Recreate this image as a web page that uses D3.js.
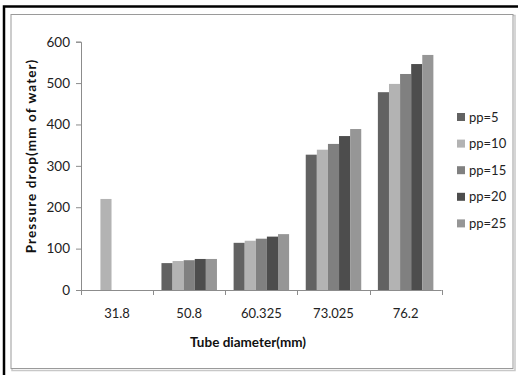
<!DOCTYPE html>
<html>
<head>
<meta charset="utf-8">
<script src="https://cdn.jsdelivr.net/npm/d3@7"></script>
<style>
  body { margin: 0; background: #fff; }
  svg { display: block; font-family: Lato, "Open Sans", sans-serif; }
</style>
</head>
<body>
<svg id="chart" width="518" height="375"></svg>
<script>
// tube diameters (mm) on the x axis
var categories = ["31.8", "50.8", "60.325", "73.025", "76.2"];
var seriesNames = ["pp=5", "pp=10", "pp=15", "pp=20", "pp=25"];
var seriesColors = ["#626262", "#b3b3b3", "#808080", "#4d4d4d", "#969696"];

// pressure drop (mm of water), one array per series, null = no bar
var pp5  = [null, 65, 114, 327, 478];
var pp10 = [220,  70, 119, 339, 498];
var pp15 = [null, 72, 124, 353, 522];
var pp20 = [null, 75, 129, 372, 546];
var pp25 = [null, 75, 135, 389, 568];
var yTicks = [0, 100, 200, 300, 400, 500, 600];

var series = [pp5, pp10, pp15, pp20, pp25];

var svg = d3.select("#chart");

// outer black frame (only top and left are visible in the picture)
svg.append("path")
	.attr("d", "M4,375V6.5H518")
	.attr("fill", "none")
	.attr("stroke", "#000")
	.attr("stroke-width", 2.5);

// inner chart border with light shadow
svg.append("rect")
	.attr("x", 12).attr("y", 15.5).attr("width", 503).attr("height", 355)
	.attr("fill", "none").attr("stroke", "#c8c8c8").attr("stroke-width", 1.5);
svg.append("rect")
	.attr("x", 11).attr("y", 14.5).attr("width", 502).attr("height", 354)
	.attr("fill", "#fff").attr("stroke", "#9a9a9a").attr("stroke-width", 1);

var plotLeft = 81, plotRight = 441.7, plotTop = 41.7, plotBottom = 290;

var x0 = d3.scaleBand().domain(categories).range([plotLeft, plotRight]).paddingInner(0).paddingOuter(0);
var x1 = d3.scaleBand().domain(d3.range(seriesNames.length))
	.range([0, x0.bandwidth()])
	.paddingOuter(0.75).paddingInner(0);
var y = d3.scaleLinear().domain([0, 600]).range([plotBottom, plotTop]);

// bars
categories.forEach(function(c, ci) {
	series.forEach(function(s, si) {
		var v = s[ci];
		if (v === null) return;
		svg.append("rect")
			.attr("x", x0(c) + x1(si))
			.attr("y", y(v))
			.attr("width", x1.bandwidth())
			.attr("height", y(0) - y(v))
			.attr("fill", seriesColors[si]);
	});
});

// y axis
var yAxis = svg.append("g")
	.attr("transform", "translate(" + plotLeft + ",0)")
	.call(d3.axisLeft(y).tickValues(yTicks).tickSize(5).tickPadding(6));
yAxis.select(".domain").attr("stroke", "#8c8c8c");
yAxis.selectAll(".tick line").attr("stroke", "#8c8c8c");
yAxis.selectAll("text").attr("font-size", 13.5).attr("fill", "#222")
	.attr("font-family", "Lato, sans-serif");

// x axis: ticks between categories
var edges = categories.map(function(c) { return x0(c); }).concat([plotRight]);
var xg = svg.append("g");
xg.append("line")
	.attr("x1", plotLeft).attr("x2", plotRight).attr("y1", plotBottom + 0.5).attr("y2", plotBottom + 0.5)
	.attr("stroke", "#8c8c8c");
xg.selectAll(".xt").data(edges).enter().append("line")
	.attr("x1", function(d) { return Math.round(d) + 0.5; })
	.attr("x2", function(d) { return Math.round(d) + 0.5; })
	.attr("y1", plotBottom).attr("y2", plotBottom + 5)
	.attr("stroke", "#8c8c8c");
xg.selectAll(".xl").data(categories).enter().append("text")
	.attr("x", function(d) { return x0(d) + x0.bandwidth() / 2; })
	.attr("y", 318)
	.attr("text-anchor", "middle")
	.attr("font-size", 13).attr("fill", "#222")
	.text(function(d) { return d; });

// axis titles
svg.append("text")
	.attr("x", 248).attr("y", 347)
	.attr("text-anchor", "middle")
	.attr("font-size", 13.5).attr("font-weight", "bold").attr("fill", "#111")
	.text("Tube diameter(mm)");
svg.append("text")
	.attr("transform", "translate(36,156) rotate(-90)")
	.attr("text-anchor", "middle")
	.attr("font-size", 13.5).attr("font-weight", "bold").attr("fill", "#111")
	.attr("letter-spacing", 1.1)
	.text("Pressure drop(mm of water)");

// legend
var legend = svg.append("g").attr("transform", "translate(457,113)");
seriesNames.forEach(function(n, i) {
	var g = legend.append("g").attr("transform", "translate(0," + (i * 26.6) + ")");
	g.append("rect").attr("width", 8).attr("height", 8).attr("fill", seriesColors[i]);
	g.append("text").attr("x", 12).attr("y", 8.5)
		.attr("font-size", 13).attr("fill", "#222").text(n);
});
</script>
</body>
</html>
